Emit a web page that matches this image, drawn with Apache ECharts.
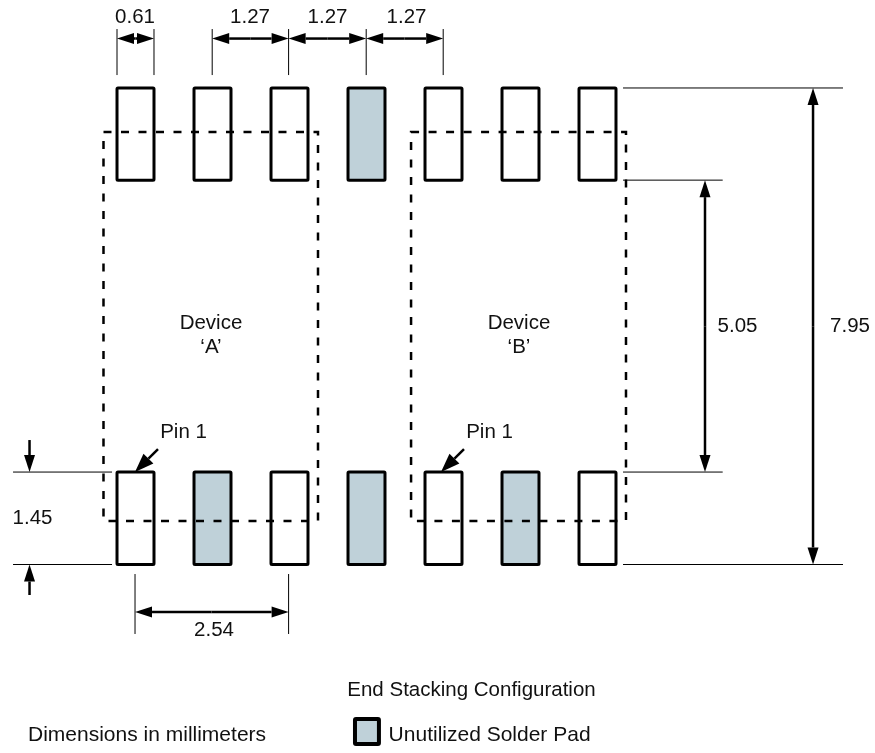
<!DOCTYPE html>
<html>
<head>
<meta charset="utf-8">
<style>html,body{margin:0;padding:0;background:#fff}#c{width:875px;height:753px}</style>
<script src="https://cdn.jsdelivr.net/npm/echarts@6/dist/echarts.min.js"></script>
</head>
<body>
<div id="c"></div>
<script>
// Drawing units are millimetres on the drawing, origin at first pad's lower-left corner
const padLefts = [0, 1.27, 2.54, 3.81, 5.08, 6.35, 7.62];
const padWidth = 0.61;
const rowTop = [6.34, 7.86];
const rowBottom = [0, 1.525];
const unusedTop = [3];
const unusedBottom = [1, 3, 5];
const legendSwatch = [3.925, -2.96, 4.32, -2.548];
const deviceBoxes = [[-0.223, 0.717, 3.315, 7.133], [4.85, 0.717, 8.395, 7.133]];
const extensionLines = [
  [0, 8.832, 0, 8.073], [0.61, 8.832, 0.61, 8.073],
  [1.57, 8.832, 1.57, 8.073], [2.83, 8.832, 2.83, 8.073], [4.11, 8.832, 4.11, 8.073], [5.38, 8.832, 5.38, 8.073],
  [-1.715, 1.525, -0.082, 1.525], [-1.715, 0, -0.082, 0],
  [0.297, -0.157, 0.297, -1.146], [2.83, -0.157, 2.83, -1.146],
  [8.346, 7.86, 11.974, 7.86], [8.346, 6.34, 9.99, 6.34], [8.346, 1.525, 9.99, 1.525], [8.346, 0, 11.974, 0]
];
// from-x, from-y, to-x, to-y: head sits at "to"
const arrows = [
  [0.305, 8.675, 0, 8.675], [0.305, 8.675, 0.61, 8.675],
  [2.2, 8.675, 1.57, 8.675], [2.2, 8.675, 2.83, 8.675],
  [3.47, 8.675, 2.83, 8.675], [3.47, 8.675, 4.11, 8.675],
  [4.74, 8.675, 4.11, 8.675], [4.74, 8.675, 5.38, 8.675],
  [-1.443, 2.053, -1.443, 1.525], [-1.443, -0.503, -1.443, 0],
  [1.56, -0.783, 0.297, -0.783], [1.56, -0.783, 2.83, -0.783],
  [0.676, 1.905, 0.297, 1.525], [5.723, 1.905, 5.344, 1.525],
  [9.698, 3.93, 9.698, 6.34], [9.698, 3.93, 9.698, 1.525],
  [11.48, 3.93, 11.48, 7.86], [11.48, 3.93, 11.48, 0]
];
const labels = [
  ['0.61', 0.297, 9.022], ['1.27', 2.194, 9.022], ['1.27', 3.472, 9.022], ['1.27', 4.775, 9.022],
  ['1.45', -1.394, 0.767], ['2.54', 1.6, -1.08], ['5.05', 10.234, 3.934], ['7.95', 12.09, 3.934],
  ['Device', 1.55, 3.983], ['\u2018A\u2019', 1.55, 3.58], ['Device', 6.63, 3.983], ['\u2018B\u2019', 6.63, 3.58],
  ['Pin 1', 1.097, 2.185], ['Pin 1', 6.144, 2.185],
  ['End Stacking Configuration', 5.847, -2.07],
  ['Dimensions in millimeters', 0.495, -2.812], ['Unutilized Solder Pad', 6.145, -2.812]
];

const INK = '#000', FILL = '#BFD1D9', FONT = '"Liberation Sans", Arial, sans-serif';
const wideLabels = ['Dimensions in millimeters', 'Unutilized Solder Pad'];

const pads = [];
padLefts.forEach((x, i) => {
  pads.push([x, rowTop[0], x + padWidth, rowTop[1], unusedTop.includes(i) ? 1 : 0]);
  pads.push([x, rowBottom[0], x + padWidth, rowBottom[1], unusedBottom.includes(i) ? 1 : 0]);
});
pads.push([...legendSwatch, 1]);

function rectOf(api) {
  const a = api.coord([api.value(0), api.value(1)]);
  const b = api.coord([api.value(2), api.value(3)]);
  return { x: Math.min(a[0], b[0]), y: Math.min(a[1], b[1]), width: Math.abs(b[0] - a[0]), height: Math.abs(b[1] - a[1]) };
}
const enc = { x: [0, 2], y: [1, 3] };

const option = {
  animation: false,
  backgroundColor: '#fff',
  grid: { left: 0, right: 0, top: 0, bottom: 0 },
  xAxis: { type: 'value', min: -1.93, max: 12.502, show: false },
  yAxis: { type: 'value', min: -3.109, max: 9.311, show: false },
  series: [
    { name: 'Pads', type: 'custom', data: pads, encode: enc, clip: false, silent: true,
      renderItem(p, api) {
        return { type: 'rect', shape: { ...rectOf(api), r: 1 },
          style: { fill: api.value(4) ? FILL : '#fff', stroke: INK, lineWidth: p.dataIndex === pads.length - 1 ? 4 : 3 } };
      } },
    { name: 'Device outlines', type: 'custom', data: deviceBoxes, encode: enc, clip: false, silent: true,
      renderItem(p, api) {
        return { type: 'rect', shape: rectOf(api),
          style: { fill: 'none', stroke: INK, lineWidth: 2.5, lineDash: [8, 9.5] } };
      } },
    { name: 'Extension lines', type: 'custom', data: extensionLines, encode: enc, clip: false, silent: true,
      renderItem(p, api) {
        const a = api.coord([api.value(0), api.value(1)]);
        const b = api.coord([api.value(2), api.value(3)]);
        return { type: 'line', shape: { x1: a[0], y1: a[1], x2: b[0], y2: b[1] },
          style: { stroke: INK, lineWidth: 1 } };
      } },
    { name: 'Arrows', type: 'custom', data: arrows, encode: enc, clip: false, silent: true,
      renderItem(p, api) {
        const a = api.coord([api.value(0), api.value(1)]);
        const b = api.coord([api.value(2), api.value(3)]);
        const dx = b[0] - a[0], dy = b[1] - a[1], len = Math.hypot(dx, dy) || 1;
        const ux = dx / len, uy = dy / len, diagonal = dx !== 0 && dy !== 0;
        const L = diagonal ? 19 : 17, W = diagonal ? 7 : 5.5;
        const bx = b[0] - ux * L, by = b[1] - uy * L;
        return { type: 'group', children: [
          { type: 'line', shape: { x1: a[0], y1: a[1], x2: bx, y2: by }, style: { stroke: INK, lineWidth: 2.5 } },
          { type: 'polygon', shape: { points: [b, [bx - uy * W, by + ux * W], [bx + uy * W, by - ux * W]] }, style: { fill: INK } }
        ] };
      } },
    { name: 'Labels', type: 'custom', data: labels, encode: { x: 1, y: 2 }, clip: false, silent: true,
      renderItem(p, api) {
        const c = api.coord([api.value(1), api.value(2)]);
        const t = labels[p.dataIndex][0];
        return { type: 'text', x: c[0], y: c[1],
          style: { text: t, fill: '#111', font: (wideLabels.includes(t) ? '21px ' : '20.5px ') + FONT, textAlign: 'center', textVerticalAlign: 'middle' } };
      } }
  ]
};
echarts.init(document.getElementById('c')).setOption(option);
</script>
</body>
</html>
